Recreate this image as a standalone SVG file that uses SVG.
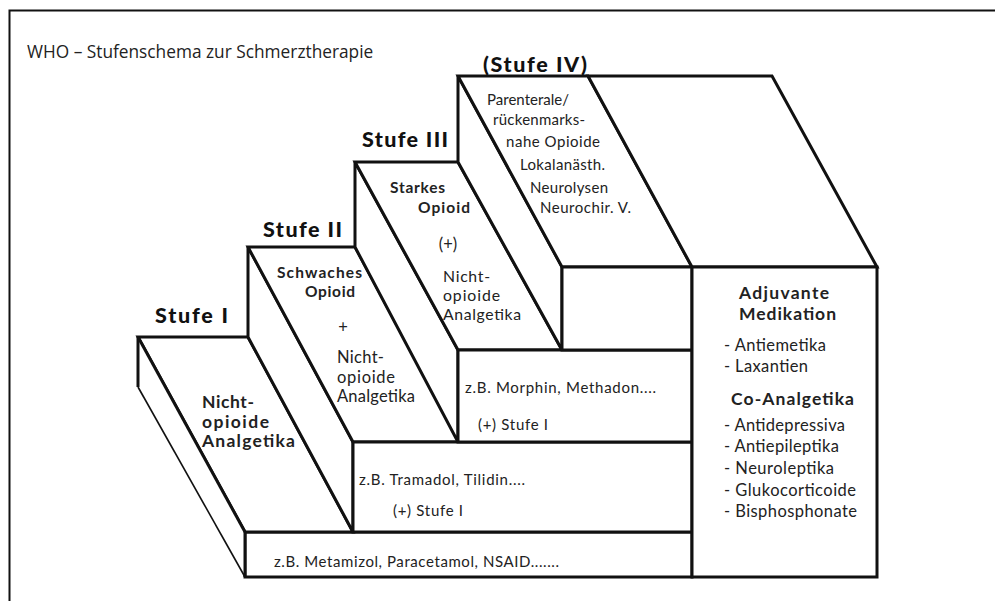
<svg xmlns="http://www.w3.org/2000/svg" width="995" height="601" viewBox="0 0 995 601">
<style>
.f{fill:#fff;stroke:#111;stroke-width:3;stroke-linejoin:miter}
.ln{stroke:#111;fill:none}
text{font-family:Lato,"Open Sans","Liberation Sans",sans-serif;fill:#222}
.st{font-size:21.5px;font-weight:900;fill:#111}
.b{font-weight:700}
.s14{font-size:15px}
.s15{font-size:15.5px}
.s16{font-size:16.5px}
.s16b{font-size:15.8px}
.s17{font-size:17.5px}
</style>
<rect x="0" y="0" width="995" height="601" fill="#fff"/>
<g id="frame">
<path class="ln" d="M9.5,601 V10.5 H995" stroke="#333" stroke-width="2"/>
<text x="27" y="58" style="font-family:'Open Sans','Noto Sans',sans-serif;font-size:17.3px;fill:#222">WHO – Stufenschema zur Schmerztherapie</text>
</g>
<g id="base">
<rect class="f" x="245" y="532" width="447" height="45"/>
<text class="s14" x="274" y="567" textLength="285">z.B. Metamizol, Paracetamol, NSAID.......</text>
</g>
<g id="stufe1">
<polygon class="f" points="138,337 248,337 353,532 245,532"/>
<polygon points="138,337 245,532 245,577 138,387" fill="#fff"/>
<path class="ln" d="M138,337 L138,387" stroke-width="3"/>
<path class="ln" d="M138,337 L245,532" stroke-width="3"/>
<path class="ln" d="M138,387 L245,577" stroke-width="1.6"/>
<path class="ln" d="M245,532 V577" stroke-width="3"/>
<text class="st" x="155" y="323" textLength="73">Stufe I</text>
<text class="b s17" x="202" y="408" textLength="52">Nicht-</text>
<text class="b s17" x="202" y="428" textLength="67">opioide</text>
<text class="b s17" x="202" y="447" textLength="93">Analgetika</text>
</g>
<g id="stufe2">
<polygon class="f" points="248,247 353,442 353,532 248,337"/>
<polygon class="f" points="248,247 355,247 460,442 353,442"/>
<rect class="f" x="353" y="442" width="339" height="90"/>
<text class="st" x="263" y="237" textLength="79">Stufe II</text>
<text class="b s15" x="277" y="278" textLength="85">Schwaches</text>
<text class="b s15" x="305" y="297" textLength="50">Opioid</text>
<text class="s16" x="343" y="333" text-anchor="middle">+</text>
<text class="s16" x="337" y="363" textLength="47">Nicht-</text>
<text class="s16" x="337" y="383" textLength="58">opioide</text>
<text class="s16" x="337" y="402" textLength="78">Analgetika</text>
<text class="s14" x="359" y="485" textLength="166">z.B. Tramadol, Tilidin....</text>
<text class="s14" x="393" y="516" textLength="70">(+) Stufe I</text>
</g>
<g id="stufe3">
<polygon class="f" points="355,162 458,350 458,442 355,247"/>
<polygon class="f" points="355,162 458,162 562,350 458,350"/>
<rect class="f" x="458" y="350" width="234" height="92"/>
<text class="st" x="362" y="147" textLength="86">Stufe III</text>
<text class="b s15" x="390" y="193" textLength="55">Starkes</text>
<text class="b s15" x="418" y="213" textLength="52">Opioid</text>
<text class="s16" x="448" y="250" text-anchor="middle">(+)</text>
<text class="s16b" x="443" y="282" textLength="47">Nicht-</text>
<text class="s16b" x="443" y="301" textLength="57">opioide</text>
<text class="s16b" x="443" y="320" textLength="78">Analgetika</text>
<text class="s14" x="465" y="393" textLength="191">z.B. Morphin, Methadon....</text>
<text class="s14" x="478" y="430" textLength="70">(+) Stufe I</text>
</g>
<g id="stufe4">
<polygon class="f" points="458,76 562,267 562,350 458,162"/>
<polygon class="f" points="458,76 588,76 692,267 562,267"/>
<rect class="f" x="562" y="267" width="130" height="83"/>
<text class="st" x="483" y="72" textLength="104">(Stufe IV)</text>
<text class="s14" x="487" y="105" textLength="82">Parenterale/</text>
<text class="s14" x="493" y="125" textLength="92">rückenmarks-</text>
<text class="s14" x="506" y="147" textLength="94">nahe Opioide</text>
<text class="s14" x="520" y="170" textLength="85">Lokalanästh.</text>
<text class="s14" x="530" y="193" textLength="78">Neurolysen</text>
<text class="s14" x="540" y="213" textLength="91">Neurochir. V.</text>
</g>
<g id="adjuvant">
<polygon class="f" points="588,76 772,76 877,267 692,267"/>
<rect class="f" x="692" y="267" width="185" height="310"/>
<text class="b s17" x="739" y="299" textLength="90">Adjuvante</text>
<text class="b s17" x="739" y="320" textLength="97">Medikation</text>
<text class="s16" x="724" y="351" textLength="102">- Antiemetika</text>
<text class="s16" x="724" y="372" textLength="84">- Laxantien</text>
<text class="b s17" x="731" y="405" textLength="123">Co-Analgetika</text>
<text class="s16" x="724" y="431" textLength="121">- Antidepressiva</text>
<text class="s16" x="724" y="452" textLength="115">- Antiepileptika</text>
<text class="s16" x="724" y="474" textLength="110">- Neuroleptika</text>
<text class="s16" x="724" y="496" textLength="132">- Glukocorticoide</text>
<text class="s16" x="724" y="517" textLength="133">- Bisphosphonate</text>
</g>
</svg>
